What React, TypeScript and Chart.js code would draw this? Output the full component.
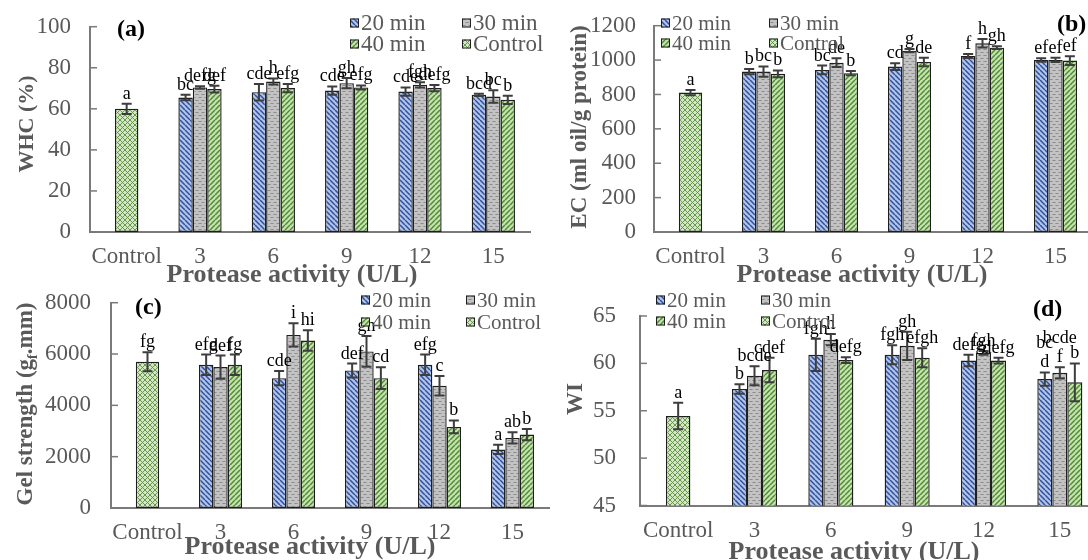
import React, { useEffect, useRef } from 'react';
import { Chart, registerables } from 'chart.js';

Chart.register(...registerables);

const FAMILY = "'Liberation Serif', 'Times New Roman', Times, serif";
const TICK_GRAY = '#595959';
const AXIS_GRAY = '#7a7a7a';
Chart.defaults.font.family = FAMILY;

const categories = ['Control', '3', '6', '9', '12', '15'];
const seriesLabels = ['20 min', '30 min', '40 min', 'Control'];

// ---------- (a) WHC (%) ----------
const whc20 = [null, 65.5, 68.1, 68.9, 68.4, 66.8];
const whc30 = [null, 70.4, 73.3, 72.5, 71.7, 66.0];
const whc40 = [null, 69.6, 70.1, 70.4, 70.1, 64.4];
const whcControl = [60.0, null, null, null, null, null];
const whc20Err = [0, 1.3, 4.0, 2.0, 2.0, 0.5];
const whc30Err = [0, 0.6, 1.5, 2.5, 1.3, 3.0];
const whc40Err = [0, 1.6, 2.0, 1.0, 1.5, 2.0];
const whcControlErr = [2.5, 0, 0, 0, 0, 0];
const whc20Sig = ['', 'bc', 'cde', 'cde', 'cde', 'bcd'];
const whc30Sig = ['', 'defg', 'h', 'gh', 'fgh', 'bc'];
const whc40Sig = ['', 'def', 'efg', 'efg', 'defg', 'b'];
const whcControlSig = ['a', '', '', '', '', ''];

// ---------- (b) EC (ml oil/g protein) ----------
const ec20 = [null, 933, 943, 962, 1024, 1001];
const ec30 = [null, 933, 985, 1055, 1098, 1001];
const ec40 = [null, 920, 924, 989, 1072, 997];
const ecControl = [811, null, null, null, null, null];
const ec20Err = [0, 15, 25, 20, 12, 10];
const ec30Err = [0, 30, 25, 10, 25, 12];
const ec40Err = [0, 20, 12, 25, 8, 25];
const ecControlErr = [15, 0, 0, 0, 0, 0];
const ec20Sig = ['', 'b', 'bc', 'cd', 'f', 'ef'];
const ec30Sig = ['', 'bc', 'de', 'g', 'h', 'ef'];
const ec40Sig = ['', 'b', 'b', 'de', 'gh', 'ef'];
const ecControlSig = ['a', '', '', '', '', ''];

// ---------- (c) Gel strength ----------
const gel20 = [null, 5580, 5060, 5360, 5580, 2280];
const gel30 = [null, 5490, 6745, 6100, 4765, 2730];
const gel40 = [null, 5580, 6525, 5060, 3160, 2860];
const gelControl = [5696, null, null, null, null, null];
const gel20Err = [0, 400, 280, 270, 400, 180];
const gel30Err = [0, 450, 450, 600, 380, 220];
const gel40Err = [0, 400, 400, 420, 250, 220];
const gelControlErr = [370, 0, 0, 0, 0, 0];
const gel20Sig = ['', 'efg', 'cde', 'def', 'efg', 'a'];
const gel30Sig = ['', 'def', 'i', 'gh', 'c', 'ab'];
const gel40Sig = ['', 'fg', 'hi', 'cd', 'b', 'b'];
const gelControlSig = ['fg', '', '', '', '', ''];

// ---------- (d) WI ----------
const wi20 = [null, 57.3, 60.9, 60.9, 60.3, 58.35];
const wi30 = [null, 58.7, 62.5, 61.85, 61.1, 59.0];
const wi40 = [null, 59.3, 60.35, 60.6, 60.3, 58.0];
const wiControl = [54.44, null, null, null, null, null];
const wi20Err = [0, 0.5, 1.7, 1.0, 0.6, 0.7];
const wi30Err = [0, 1.0, 0.6, 1.5, 0.2, 0.6];
const wi40Err = [0, 1.3, 0.3, 1.0, 0.3, 2.0];
const wiControlErr = [1.4, 0, 0, 0, 0, 0];
const wi20Sig = ['', 'b', 'fgh', 'fgh', 'defg', 'bc\nd'];
const wi30Sig = ['', 'bcde', 'h', 'gh', 'fgh', 'bcde\nf'];
const wi40Sig = ['', 'cdef', 'defg', 'efgh', 'defg', 'b'];
const wiControlSig = ['a', '', '', '', '', ''];

type Seg = { text: string; sub?: boolean };

type PanelSpec = {
  key: string;
  left: number; top: number; width: number; height: number;
  area: { l: number; t: number; r: number; b: number };
  yMin: number; yMax: number; yStep: number;
  yLabelPad: number; xLabelPad: number;
  yTitle: Seg[]; yTitleSize: number; yTitleX: number; yTitleY: number;
  xTitleX: number; xTitleY: number; xTitleSize: number;
  panelLabel: string; panelLabelX: number; panelLabelY: number;
  legend: { x1: number; x2: number; y1: number; y2: number; size: number };
  values: (number | null)[][];
  errors: number[][];
  sigs: string[][];
};

const panels: PanelSpec[] = [
  {
    key: 'a', left: 0, top: 0, width: 545, height: 292,
    area: { l: 90, t: 26.7, r: 530, b: 232 },
    yMin: 0, yMax: 100, yStep: 20, yLabelPad: 19, xLabelPad: 11,
    yTitle: [{ text: 'WHC (%)' }], yTitleSize: 22, yTitleX: 26, yTitleY: 124,
    xTitleX: 292, xTitleY: 273.5, xTitleSize: 26,
    panelLabel: '(a)', panelLabelX: 117, panelLabelY: 30,
    legend: { x1: 350, x2: 462, y1: 23, y2: 44, size: 23 },
    values: [whc20, whc30, whc40, whcControl],
    errors: [whc20Err, whc30Err, whc40Err, whcControlErr],
    sigs: [whc20Sig, whc30Sig, whc40Sig, whcControlSig],
  },
  {
    key: 'b', left: 545, top: 0, width: 560, height: 292,
    area: { l: 109, t: 25.7, r: 547, b: 232 },
    yMin: 0, yMax: 1200, yStep: 200, yLabelPad: 18, xLabelPad: 11,
    yTitle: [{ text: 'EC (ml oil/g protein)' }], yTitleSize: 23, yTitleX: 33, yTitleY: 127,
    xTitleX: 317, xTitleY: 273.5, xTitleSize: 26,
    panelLabel: '(b)', panelLabelX: 512, panelLabelY: 25,
    legend: { x1: 116, x2: 224, y1: 23, y2: 43, size: 21 },
    values: [ec20, ec30, ec40, ecControl],
    errors: [ec20Err, ec30Err, ec40Err, ecControlErr],
    sigs: [ec20Sig, ec30Sig, ec40Sig, ecControlSig],
  },
  {
    key: 'c', left: 0, top: 280, width: 560, height: 280,
    area: { l: 111, t: 22.7, r: 549, b: 228 },
    yMin: 0, yMax: 8000, yStep: 2000, yLabelPad: 20, xLabelPad: 11,
    yTitle: [{ text: 'Gel strength (g' }, { text: 'f', sub: true }, { text: '.mm)' }], yTitleSize: 23, yTitleX: 24, yTitleY: 124,
    xTitleX: 310, xTitleY: 265.5, xTitleSize: 26,
    panelLabel: '(c)', panelLabelX: 135, panelLabelY: 28,
    legend: { x1: 361, x2: 466, y1: 20, y2: 42, size: 21 },
    values: [gel20, gel30, gel40, gelControl],
    errors: [gel20Err, gel30Err, gel40Err, gelControlErr],
    sigs: [gel20Sig, gel30Sig, gel40Sig, gelControlSig],
  },
  {
    key: 'd', left: 545, top: 280, width: 560, height: 280,
    area: { l: 95, t: 36, r: 553, b: 225.5 },
    yMin: 45, yMax: 65, yStep: 5, yLabelPad: 24, xLabelPad: 11.5,
    yTitle: [{ text: 'WI' }], yTitleSize: 23, yTitleX: 29, yTitleY: 119,
    xTitleX: 309, xTitleY: 270.5, xTitleSize: 26,
    panelLabel: '(d)', panelLabelX: 488, panelLabelY: 30,
    legend: { x1: 111, x2: 216, y1: 20, y2: 41, size: 21 },
    values: [wi20, wi30, wi40, wiControl],
    errors: [wi20Err, wi30Err, wi40Err, wiControlErr],
    sigs: [wi20Sig, wi30Sig, wi40Sig, wiControlSig],
  },
];

function makePattern(kind: string): CanvasPattern | string {
  const c = document.createElement('canvas');
  const g = c.getContext('2d');
  if (!g) return '#cccccc';
  if (kind === 'blue' || kind === 'green') {
    const s = 5;
    c.width = s; c.height = s;
    g.fillStyle = kind === 'blue' ? '#B2C5E8' : '#C6E2B3';
    g.fillRect(0, 0, s, s);
    g.strokeStyle = kind === 'blue' ? '#2E4F9E' : '#4E8C2E';
    g.lineWidth = 1.5;
    for (const k of [-1, 0, 1]) {
      g.beginPath();
      if (kind === 'blue') { g.moveTo(k * s, 0); g.lineTo(k * s + s, s); }
      else { g.moveTo(k * s, s); g.lineTo(k * s + s, 0); }
      g.stroke();
    }
  } else if (kind === 'gray') {
    c.width = 6; c.height = 6;
    g.fillStyle = '#C3C3C3';
    g.fillRect(0, 0, 6, 6);
    g.strokeStyle = '#6E6E6E';
    g.lineWidth = 0.8;
    g.beginPath();
    g.moveTo(0.5, 2); g.lineTo(1.5, 1); g.lineTo(2.5, 2); g.lineTo(3.5, 1);
    g.moveTo(3.5, 5); g.lineTo(4.5, 4); g.lineTo(5.5, 5); g.lineTo(6.5, 4);
    g.moveTo(-2.5, 5); g.lineTo(-1.5, 4); g.lineTo(-0.5, 5); g.lineTo(0.5, 4);
    g.stroke();
  } else {
    const s = 5;
    c.width = s; c.height = s;
    g.fillStyle = '#D2E8C4';
    g.fillRect(0, 0, s, s);
    g.strokeStyle = '#5C8E3E';
    g.lineWidth = 0.9;
    g.beginPath();
    g.moveTo(0, 0); g.lineTo(s, s);
    g.moveTo(0, s); g.lineTo(s, 0);
    g.stroke();
  }
  const p = g.createPattern(c, 'repeat');
  return p || '#cccccc';
}

function drawRich(ctx: CanvasRenderingContext2D, segs: Seg[], cx: number, cy: number, rotate: boolean, size: number) {
  ctx.save();
  ctx.translate(cx, cy);
  if (rotate) ctx.rotate(-Math.PI / 2);
  const fontMain = `bold ${size}px ${FAMILY}`;
  const fontSub = `bold ${Math.round(size * 0.62)}px ${FAMILY}`;
  let total = 0;
  const widths = segs.map((s) => {
    ctx.font = s.sub ? fontSub : fontMain;
    const w = ctx.measureText(s.text).width;
    total += w;
    return w;
  });
  let x = -total / 2;
  const base = size * 0.33;
  ctx.textAlign = 'left';
  ctx.textBaseline = 'alphabetic';
  ctx.fillStyle = TICK_GRAY;
  segs.forEach((s, i) => {
    ctx.font = s.sub ? fontSub : fontMain;
    ctx.fillText(s.text, x, s.sub ? base + size * 0.22 : base);
    x += widths[i];
  });
  ctx.restore();
}

function makePlugin(spec: PanelSpec, patterns: (CanvasPattern | string)[]) {
  return {
    id: 'decor' + spec.key,
    afterDatasetsDraw(chart: any) {
      const ctx: CanvasRenderingContext2D = chart.ctx;
      const ys = chart.scales.y;
      ctx.save();
      // error bars
      ctx.strokeStyle = '#3d3d3d';
      ctx.lineWidth = 2;
      spec.values.forEach((vals, di) => {
        const meta = chart.getDatasetMeta(di);
        vals.forEach((v, i) => {
          if (v == null) return;
          const el = meta.data[i];
          const e = spec.errors[di][i];
          const x = el.x;
          const pt = ys.getPixelForValue(v + e);
          const pb = ys.getPixelForValue(v - e);
          ctx.beginPath();
          ctx.moveTo(x, pt); ctx.lineTo(x, pb);
          ctx.moveTo(x - 5, pt); ctx.lineTo(x + 5, pt);
          ctx.moveTo(x - 5, pb); ctx.lineTo(x + 5, pb);
          ctx.stroke();
        });
      });
      // significance letters
      ctx.fillStyle = '#000';
      ctx.font = `18px ${FAMILY}`;
      ctx.textAlign = 'center';
      ctx.textBaseline = 'alphabetic';
      spec.values.forEach((vals, di) => {
        const meta = chart.getDatasetMeta(di);
        vals.forEach((v, i) => {
          if (v == null) return;
          const txt = spec.sigs[di][i];
          if (!txt) return;
          const el = meta.data[i];
          const pt = ys.getPixelForValue(v + spec.errors[di][i]);
          const lines = txt.split('\n');
          for (let k = lines.length - 1, j = 0; k >= 0; k--, j++) {
            ctx.fillText(lines[k], el.x, pt - 5 - j * 19);
          }
        });
      });
      ctx.restore();
    },
    afterDraw(chart: any) {
      const ctx: CanvasRenderingContext2D = chart.ctx;
      const ys = chart.scales.y;
      const area = chart.chartArea;
      ctx.save();
      // inward y ticks
      ctx.strokeStyle = AXIS_GRAY;
      ctx.lineWidth = 1.5;
      ys.ticks.forEach((t: any) => {
        const py = ys.getPixelForValue(t.value);
        ctx.beginPath();
        ctx.moveTo(area.left, py);
        ctx.lineTo(area.left + 7, py);
        ctx.stroke();
      });
      // titles
      drawRich(ctx, spec.yTitle, spec.yTitleX, spec.yTitleY, true, spec.yTitleSize);
      drawRich(ctx, [{ text: 'Protease activity (U/L)' }], spec.xTitleX, spec.xTitleY, false, spec.xTitleSize);
      // panel label
      ctx.fillStyle = '#000';
      ctx.font = `bold 24px ${FAMILY}`;
      ctx.textAlign = 'left';
      ctx.textBaseline = 'middle';
      ctx.fillText(spec.panelLabel, spec.panelLabelX, spec.panelLabelY);
      // legend
      const L = spec.legend;
      const pos = [[L.x1, L.y1], [L.x2, L.y1], [L.x1, L.y2], [L.x2, L.y2]];
      const box = 9;
      seriesLabels.forEach((lab, di) => {
        const [x, y] = pos[di];
        ctx.fillStyle = patterns[di] as any;
        ctx.fillRect(x, y - box / 2, box, box);
        ctx.strokeStyle = '#1e1e1e';
        ctx.lineWidth = 1;
        ctx.strokeRect(x + 0.5, y - box / 2 + 0.5, box - 1, box - 1);
        ctx.fillStyle = TICK_GRAY;
        ctx.font = `${L.size}px ${FAMILY}`;
        ctx.textAlign = 'left';
        ctx.textBaseline = 'middle';
        ctx.fillText(lab, x + box + 2, y + 1);
      });
      ctx.restore();
    },
  };
}

function zeroPadding(s: any) {
  s.paddingTop = 0;
  s.paddingBottom = 0;
  s.paddingLeft = 0;
  s.paddingRight = 0;
}

function Panel({ spec }: { spec: PanelSpec }) {
  const ref = useRef<HTMLCanvasElement>(null);
  useEffect(() => {
    const canvas = ref.current;
    if (!canvas) return;
    const patterns = ['blue', 'gray', 'green', 'cross'].map(makePattern);
    const a = spec.area;
    const chart = new Chart(canvas, {
      type: 'bar',
      data: {
        labels: categories,
        datasets: seriesLabels.map((label, di) => ({
          label,
          data: spec.values[di] as any,
          backgroundColor: patterns[di] as any,
          borderColor: '#1e1e1e',
          borderWidth: 1.4,
          borderSkipped: false,
          skipNull: true,
          categoryPercentage: di === 3 ? 0.32 : 0.59,
          barPercentage: 1,
        })),
      },
      options: {
        responsive: false,
        animation: false,
        devicePixelRatio: 1,
        layout: { autoPadding: false, padding: { left: 0, top: a.t, right: spec.width - a.r, bottom: 0 } },
        plugins: { legend: { display: false }, tooltip: { enabled: false }, title: { display: false } },
        scales: {
          x: {
            type: 'category',
            offset: true,
            grid: { display: false, drawTicks: false },
            border: { display: true, color: AXIS_GRAY, width: 2 },
            ticks: { color: TICK_GRAY, font: { family: FAMILY, size: 23 }, padding: spec.xLabelPad, maxRotation: 0, minRotation: 0, autoSkip: false },
            afterFit: (s: any) => { s.height = spec.height - a.b; zeroPadding(s); },
          },
          y: {
            min: spec.yMin,
            max: spec.yMax,
            grid: { display: false, drawTicks: false },
            border: { display: true, color: AXIS_GRAY, width: 2 },
            ticks: {
              stepSize: spec.yStep,
              color: TICK_GRAY,
              font: { family: FAMILY, size: 23 },
              padding: spec.yLabelPad,
              callback: (v: any) => String(v),
            },
            afterFit: (s: any) => { s.width = a.l; zeroPadding(s); },
          },
        },
      } as any,
      plugins: [makePlugin(spec, patterns)],
    });
    return () => chart.destroy();
  }, [spec]);
  return (
    <canvas
      ref={ref}
      width={spec.width}
      height={spec.height}
      style={{ position: 'absolute', left: spec.left, top: spec.top, width: spec.width, height: spec.height }}
    />
  );
}

export default function App() {
  return (
    <div style={{ position: 'absolute', left: 0, top: 0, width: 1088, height: 560, overflow: 'hidden', background: '#ffffff' }}>
      {panels.map((p) => (
        <Panel key={p.key} spec={p} />
      ))}
    </div>
  );
}
